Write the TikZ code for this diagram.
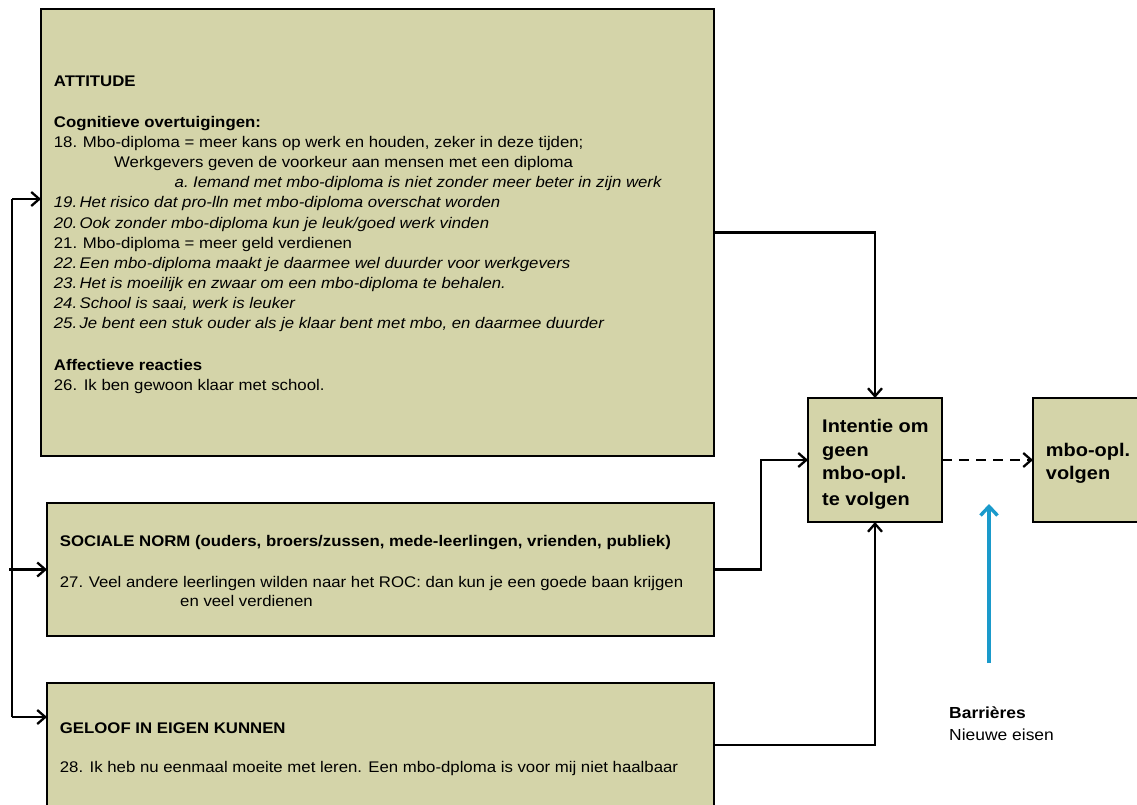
\documentclass[tikz,border=0pt]{standalone}
\usepackage{fontspec}
\setmainfont{Liberation Sans}[FakeStretch=1.09]
\usetikzlibrary{arrows.meta}
\definecolor{boxfill}{RGB}{212,212,169}
\definecolor{barblue}{RGB}{26,154,203}
\begin{document}
\begin{tikzpicture}[x=1pt,y=-1pt,
  box/.style={draw=black, line width=2.6pt, fill=boxfill, inner sep=0pt, outer sep=0pt, anchor=north west},
  conn/.style={line width=2.3pt, -{Straight Barb[length=8pt,width=14pt,line width=2.3pt]}},
  dashconn/.style={conn, dash pattern=on 10pt off 7pt},
  bluearrow/.style={draw=barblue, line width=3.4pt, -{Straight Barb[length=9pt,width=17pt,line width=3.4pt]}},
  txt/.style={anchor=base west, inner sep=0pt, font=\fontsize{15.4}{20}\selectfont},
  btxt/.style={txt, font=\fontsize{15.4}{20}\selectfont\bfseries},
  itxt/.style={txt, font=\fontsize{15.4}{20}\selectfont\itshape},
  bigtxt/.style={anchor=base west, inner sep=0pt, font=\fontsize{18.3}{24}\selectfont\bfseries},
  bartxt/.style={anchor=base west, inner sep=0pt, font=\fontsize{16}{20}\selectfont}
]
\useasboundingbox (0,0) rectangle (1137,805);
\clip (0,0) rectangle (1137,805);
\fill[white] (0,0) rectangle (1137,805);

% boxes
\node[box, minimum width=673pt, minimum height=447pt] (att) at (41,9) {};
\node[box, minimum width=667pt, minimum height=133pt] (soc) at (47,503) {};
\node[box, minimum width=667pt, minimum height=124pt] (gel) at (47,683) {};
\node[box, minimum width=134pt, minimum height=124pt] (int) at (808,398) {};
\node[box, minimum width=124pt, minimum height=124pt] (mbo) at (1033,398) {};

% attitude text
\node[btxt] (a0) at (53.7,87) {ATTITUDE};
\node[btxt] (a1) at (53.7,128) {Cognitieve overtuigingen:};
\node[txt] (a2) at (53.7,148) {\makebox[29pt][l]{18.}Mbo-diploma = meer kans op werk en houden, zeker in deze tijden;};
\node[txt] (a3) at (114,168) {Werkgevers geven de voorkeur aan mensen met een diploma};
\node[itxt] (a4) at (174.5,187.5) {\makebox[18.5pt][l]{a.}Iemand met mbo-diploma is niet zonder meer beter in zijn werk};
\node[itxt] (a5) at (53.7,207.5) {\makebox[25.7pt][l]{19.}Het risico dat pro-lln met mbo-diploma overschat worden};
\node[itxt] (a6) at (53.7,228) {\makebox[25.7pt][l]{20.}Ook zonder mbo-diploma kun je leuk/goed werk vinden};
\node[txt] (a7) at (53.7,248) {\makebox[29pt][l]{21.}Mbo-diploma = meer geld verdienen};
\node[itxt] (a8) at (53.7,268) {\makebox[25.7pt][l]{22.}Een mbo-diploma maakt je daarmee wel duurder voor werkgevers};
\node[itxt] (a9) at (53.7,288) {\makebox[25.7pt][l]{23.}Het is moeilijk en zwaar om een mbo-diploma te behalen.};
\node[itxt] (a10) at (53.7,308) {\makebox[25.7pt][l]{24.}School is saai, werk is leuker};
\node[itxt] (a11) at (53.7,328) {\makebox[25.7pt][l]{25.}Je bent een stuk ouder als je klaar bent met mbo, en daarmee duurder};
\node[btxt] (a12) at (53.7,370) {Affectieve reacties};
\node[txt] (a13) at (53.7,390) {\makebox[29.9pt][l]{26.}Ik ben gewoon klaar met school.};

% social text
\node[btxt] (s0) at (59.7,546.7) {SOCIALE NORM (ouders, broers/zussen, mede-leerlingen, vrienden, publiek)};
\node[txt] (s1) at (59.7,587) {\makebox[28.9pt][l]{27.}Veel andere leerlingen wilden naar het ROC: dan kun je een goede baan krijgen};
\node[txt] (s2) at (180,606.7) {en veel verdienen};

% geloof text
\node[btxt] (g0) at (59.7,733) {GELOOF IN EIGEN KUNNEN};
\node[txt] (g1) at (59.7,772.7) {\makebox[29.8pt][l]{28.}Ik heb nu eenmaal moeite met leren. Een mbo-dploma is voor mij niet haalbaar};

% intention / behaviour text
\node[bigtxt] (i0) at (822,432) {Intentie om};
\node[bigtxt] (i1) at (822,456) {geen};
\node[bigtxt] (i2) at (822,479.5) {mbo-opl.};
\node[bigtxt] (i3) at (822,505) {te volgen};
\node[bigtxt] (m0) at (1045.7,456) {mbo-opl.};
\node[bigtxt] (m1) at (1045.7,479.5) {volgen};

% barriers
\node[bartxt, font=\fontsize{16}{20}\selectfont\bfseries] (b0) at (949,718) {Barrières};
\node[bartxt] (b1) at (949,740) {Nieuwe eisen};

% connectors
\draw[conn] (att.east) -| (int.north);
\draw[conn] (soc.east) -- ++(47,0) |- (int.west);
\draw[conn] (gel.east) -| (int.south);
\draw[dashconn] (int.east) -- (mbo.west);

\coordinate (lb) at (12,717);
\coordinate (lt) at (12,199);
\coordinate (ls) at (9,569.5);
\draw[line width=2.3pt] (lb) -- (lt);
\draw[conn] (lt) -- (att.west |- lt);
\draw[conn] (lb) -- (gel.west |- lb);
\draw[conn] (ls) -- (soc.west);

\coordinate (bb) at (989,663);
\coordinate (bt) at (989,504);
\draw[bluearrow] (bb) -- (bt);
\end{tikzpicture}
\end{document}
